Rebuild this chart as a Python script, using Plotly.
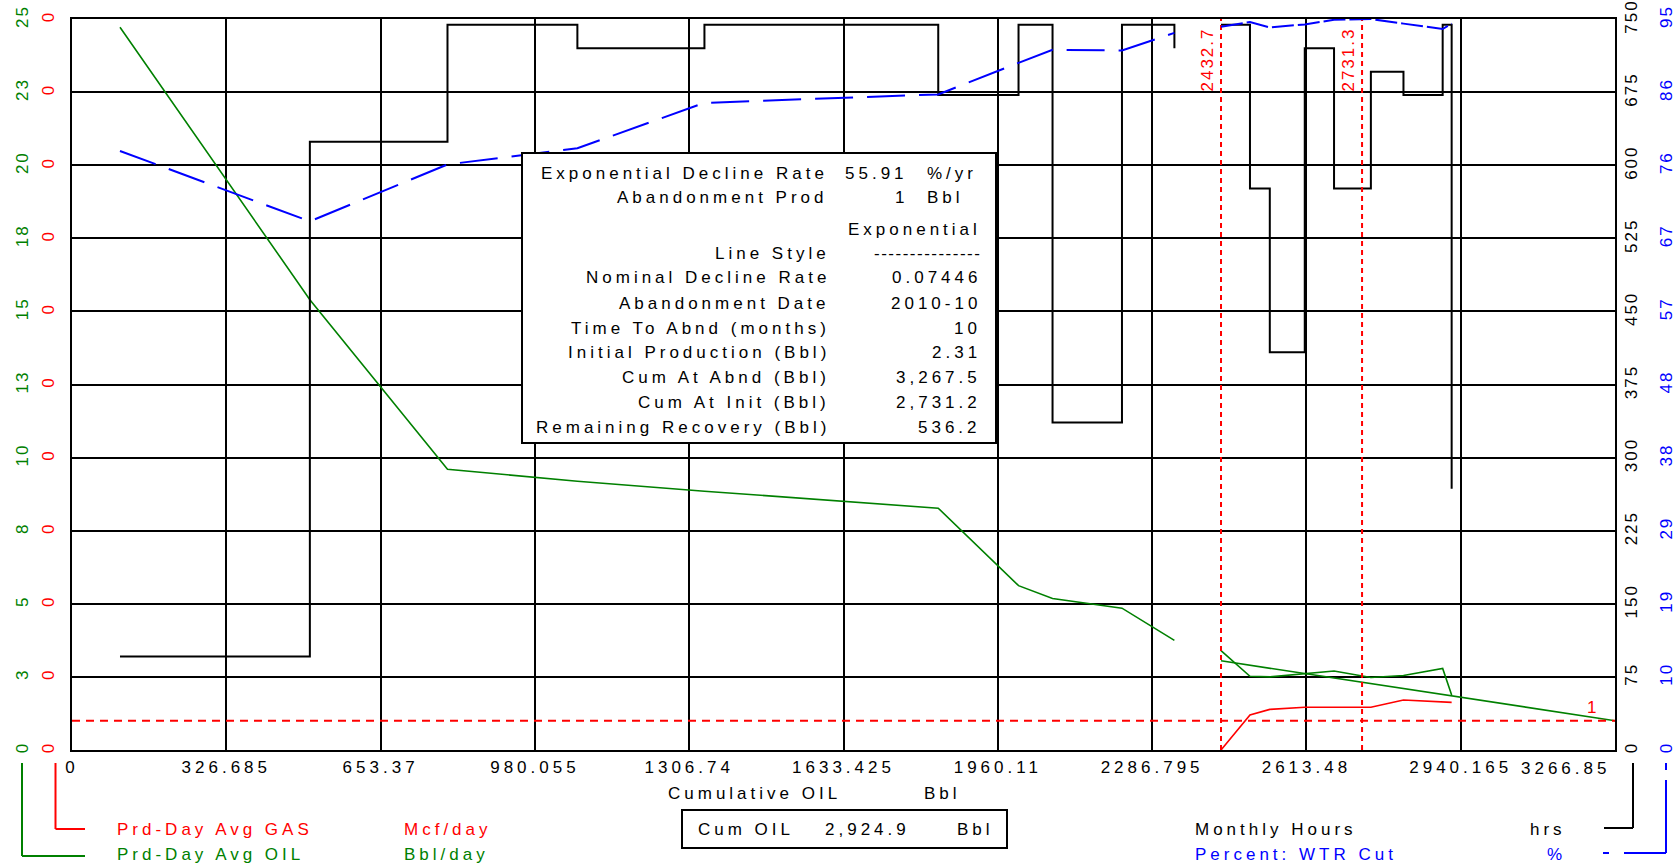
import plotly.graph_objects as go

# ---------------- data ----------------
x_ticks = [0, 326.685, 653.37, 980.055, 1306.74, 1633.425, 1960.11, 2286.795, 2613.48, 2940.165, 3266.85]
x_tick_labels = ["0", "326.685", "653.37", "980.055", "1306.74", "1633.425", "1960.11",
                 "2286.795", "2613.48", "2940.165", "3266.85"]

oil_ticks = [0, 2.5, 5, 7.5, 10, 12.5, 15, 17.5, 20, 22.5, 25]
oil_tick_labels = ["0", "3", "5", "8", "10", "13", "15", "18", "20", "23", "25"]
gas_ticks = [0, 0.025, 0.05, 0.075, 0.1, 0.125, 0.15, 0.175, 0.2, 0.225, 0.25]
gas_tick_labels = ["0", "0", "0", "0", "0", "0", "0", "0", "0", "0", "0"]
hrs_ticks = [0, 75, 150, 225, 300, 375, 450, 525, 600, 675, 750]
hrs_tick_labels = ["0", "75", "150", "225", "300", "375", "450", "525", "600", "675", "750"]
wtr_ticks = [0, 9.5, 19, 28.5, 38, 47.5, 57, 66.5, 76, 85.5, 95]
wtr_tick_labels = ["0", "10", "19", "29", "38", "48", "57", "67", "76", "86", "95"]

# production history, first block
cum_oil_1 = [101.6, 503.6, 795, 1070, 1339, 1834, 2004, 2076, 2223, 2334]
oil_rate_1 = [24.72, 15.4, 9.6, 9.19, 8.85, 8.27, 5.62, 5.18, 4.85, 3.75]
hours_1 = [96, 624, 744, 720, 744, 672, 744, 336, 744, 720]
wtr_cut_1 = [77.85, 68.7, 76.1, 78.2, 84.1, 85.2, 89.3, 91.0, 90.9, 93.2]

# production history, second block
cum_oil_2 = [2432.7, 2494, 2536, 2610, 2672, 2750, 2819, 2902, 2921]
oil_rate_2 = [3.40, 2.52, 2.50, 2.60, 2.70, 2.48, 2.55, 2.79, 1.88]
gas_rate_2 = [0.0, 0.0120, 0.0139, 0.0146, 0.0146, 0.0146, 0.0171, 0.0166, 0.0163]
hours_2 = [744, 576, 408, 720, 576, 696, 672, 744, 268]
wtr_cut_2 = [94.0, 94.6, 93.9, 94.3, 94.9, 95.0, 94.4, 93.7, 94.4]

# exponential forecast
forecast_cum = [2432.7, 2731.2, 3267.5]
forecast_rate = [3.05, 2.31, 1.0]
abandon_rate = 1
marker_cums = [2432.7, 2731.3]

box_labels = ["Exponential Decline Rate", "Abandonment Prod", "", "Line Style",
              "Nominal Decline Rate", "Abandonment Date", "Time To Abnd (months)",
              "Initial Production (Bbl)", "Cum At Abnd (Bbl)", "Cum At Init (Bbl)",
              "Remaining Recovery (Bbl)"]
box_values = ["55.91", "1", "Exponential", "---------------", "0.07446", "2010-10", "10",
              "2.31", "3,267.5", "2,731.2", "536.2"]
box_units = ["%/yr", "Bbl"]
cum_oil_total = "2,924.9"

# ---------------- styling helpers ----------------
W, H = 1680, 866
L, R, T, B = 72, 1615, 19, 750
FONT = "Liberation Sans, Arial, sans-serif"
GREEN, RED, BLUE, BLACK = "#008000", "#ff0000", "#0000ff", "#000000"


def sp(t, ls=4):
    return f'<span style="letter-spacing:{ls}px">{t}</span>'


def px(x):
    return x / W


def py(y):
    return 1 - y / H


fig = go.Figure()

# Monthly hours (step)
fig.add_trace(go.Scatter(x=cum_oil_1 + [None] + cum_oil_2, y=hours_1 + [None] + hours_2,
                         mode="lines", line=dict(color=BLACK, width=2, shape="hv"),
                         yaxis="y3", connectgaps=False, showlegend=False))
# Water cut
fig.add_trace(go.Scatter(x=cum_oil_1, y=wtr_cut_1, mode="lines",
                         line=dict(color=BLUE, width=2, dash="38px,14px"),
                         yaxis="y4", showlegend=False))
fig.add_trace(go.Scatter(x=cum_oil_2, y=wtr_cut_2, mode="lines",
                         line=dict(color=BLUE, width=2, dash="22px,4px"),
                         yaxis="y4", showlegend=False))
# Oil
fig.add_trace(go.Scatter(x=cum_oil_1 + [None] + cum_oil_2, y=oil_rate_1 + [None] + oil_rate_2,
                         mode="lines", line=dict(color=GREEN, width=1.6),
                         connectgaps=False, showlegend=False))
fig.add_trace(go.Scatter(x=forecast_cum, y=forecast_rate, mode="lines",
                         line=dict(color=GREEN, width=1.6), showlegend=False))
# Gas
fig.add_trace(go.Scatter(x=cum_oil_2, y=gas_rate_2, mode="lines",
                         line=dict(color=RED, width=1.6), yaxis="y2", showlegend=False))
# Abandonment rate
fig.add_trace(go.Scatter(x=[x_ticks[0], x_ticks[-1]], y=[abandon_rate, abandon_rate], mode="lines",
                         line=dict(color=RED, width=2, dash="8px,6px"), showlegend=False))
# Marker verticals
for m in marker_cums:
    fig.add_trace(go.Scatter(x=[m, m], y=[hrs_ticks[0], hrs_ticks[-1]], mode="lines",
                             line=dict(color=RED, width=2, dash="5px,4px"),
                             yaxis="y3", showlegend=False))

ann = []
for m in marker_cums:
    ann.append(dict(x=m, xref="x", y=py(60), yref="paper", text=sp(f"{m:.1f}", 2),
                    textangle=-90, showarrow=False, xanchor="right", yanchor="middle",
                    xshift=-3, font=dict(family=FONT, size=17, color=RED)))
ann.append(dict(x=3218, xref="x", y=1.45, yref="y", text="1", showarrow=False,
                font=dict(family=FONT, size=17, color=RED)))

# last x tick label, right-aligned at the frame
ann.append(dict(x=px(1612), xref="paper", y=py(768), yref="paper", text=sp(x_tick_labels[-1]),
                showarrow=False, xanchor="right", yanchor="middle",
                font=dict(family=FONT, size=17, color=BLACK)))

# info box
shapes = []
shapes.append(dict(type="rect", xref="paper", yref="paper", x0=px(522), x1=px(996),
                   y0=py(153), y1=py(443), fillcolor="white", line=dict(color=BLACK, width=2),
                   layer="above"))
row_y = [173, 197, 229, 253, 277, 303, 328, 352, 377, 402, 427]
for i, (lab, val) in enumerate(zip(box_labels, box_values)):
    yy = py(row_y[i])
    if lab:
        ann.append(dict(x=px(832 if i > 1 else 830), y=yy, xref="paper", yref="paper",
                        text=sp(lab), showarrow=False, xanchor="right", yanchor="middle",
                        font=dict(family=FONT, size=17, color=BLACK)))
    if i < 2:
        ann.append(dict(x=px(910), y=yy, xref="paper", yref="paper", text=sp(val),
                        showarrow=False, xanchor="right", yanchor="middle",
                        font=dict(family=FONT, size=17, color=BLACK)))
        ann.append(dict(x=px(925), y=yy, xref="paper", yref="paper", text=sp(box_units[i]),
                        showarrow=False, xanchor="left", yanchor="middle",
                        font=dict(family=FONT, size=17, color=BLACK)))
    else:
        ann.append(dict(x=px(983), y=yy, xref="paper", yref="paper",
                        text=sp(val, 1.5 if val.startswith("-") else 4),
                        showarrow=False, xanchor="right", yanchor="middle",
                        font=dict(family=FONT, size=17, color=BLACK)))

# bottom texts
def txt(x, y, t, color=BLACK, anchor="left"):
    ann.append(dict(x=px(x), y=py(y), xref="paper", yref="paper", text=sp(t), showarrow=False,
                    xanchor=anchor, yanchor="middle", font=dict(family=FONT, size=17, color=color)))

txt(666, 793, "Cumulative OIL")
txt(922, 793, "Bbl")
shapes.append(dict(type="rect", xref="paper", yref="paper", x0=px(682), x1=px(1007),
                   y0=py(810), y1=py(848), line=dict(color=BLACK, width=2), fillcolor="white"))
txt(696, 829, "Cum OIL")
txt(823, 829, cum_oil_total)
txt(955, 829, "Bbl")
txt(115, 829, "Prd-Day Avg GAS", RED)
txt(402, 829, "Mcf/day", RED)
txt(115, 854, "Prd-Day Avg OIL", GREEN)
txt(402, 854, "Bbl/day", GREEN)
txt(1193, 829, "Monthly Hours")
txt(1568, 829, "hrs", BLACK, "right")
txt(1193, 854, "Percent: WTR Cut", BLUE)
txt(1568, 854, "%", BLUE, "right")

def seg(x0, y0, x1, y1, color, dash="solid"):
    shapes.append(dict(type="line", xref="paper", yref="paper", x0=px(x0), y0=py(y0),
                       x1=px(x1), y1=py(y1), line=dict(color=color, width=2, dash=dash)))

seg(22, 763, 22, 856, GREEN)
seg(22, 856, 85, 856, GREEN)
seg(55.5, 763, 55.5, 829, RED)
seg(55.5, 829, 85, 829, RED)
seg(1633, 763, 1633, 828, BLACK)
seg(1604, 828, 1633, 828, BLACK)
seg(1666, 763, 1666, 770, BLUE)
seg(1666, 780, 1666, 853, BLUE)
seg(1624, 853, 1666, 853, BLUE)
seg(1603, 853, 1609, 853, BLUE)

tf = dict(family=FONT, size=17)
YLS = 2
fig.update_layout(
    width=W, height=H, margin=dict(l=0, r=0, t=0, b=0, autoexpand=False),
    paper_bgcolor="white", plot_bgcolor="white", showlegend=False, hovermode=False,
    xaxis=dict(domain=[px(L), px(R)], range=[x_ticks[0], x_ticks[-1]], tickmode="array",
               tickvals=x_ticks, ticktext=[sp(t) for t in x_tick_labels[:-1]] + [""],
               showgrid=True, gridcolor=BLACK, gridwidth=2, zeroline=False, automargin=False,
               showline=True, linecolor=BLACK, linewidth=2, mirror=True, ticks="",
               tickfont=dict(tf, color=BLACK), ticklabelstandoff=1),
    yaxis=dict(domain=[1 - B / H, 1 - T / H], range=[oil_ticks[0], oil_ticks[-1]],
               tickmode="array", tickvals=oil_ticks, ticktext=[sp(t, YLS) for t in oil_tick_labels],
               tickangle=-90, tickfont=dict(tf, color=GREEN), showgrid=True, gridcolor=BLACK,
               gridwidth=2, zeroline=False, showline=True, linecolor=BLACK, linewidth=2,
               mirror=True, ticks="", ticklabelstandoff=35, automargin=False,
               ticklabeloverflow="allow"),
    yaxis2=dict(overlaying="y", anchor="free", position=px(L), side="left",
                range=[gas_ticks[0], gas_ticks[-1]], tickmode="array", tickvals=gas_ticks,
                ticktext=[sp(t, YLS) for t in gas_tick_labels], tickangle=-90, automargin=False,
                tickfont=dict(tf, color=RED), showgrid=False, zeroline=False, showline=False,
                ticks="", ticklabelstandoff=15, ticklabeloverflow="allow"),
    yaxis3=dict(overlaying="y", anchor="free", position=px(R), side="right",
                range=[hrs_ticks[0], hrs_ticks[-1]], tickmode="array", tickvals=hrs_ticks,
                ticktext=[sp(t, YLS) for t in hrs_tick_labels], tickangle=-90, automargin=False,
                tickfont=dict(tf, color=BLACK), showgrid=False, zeroline=False, showline=False,
                ticks="", ticklabelstandoff=4, ticklabeloverflow="allow"),
    yaxis4=dict(overlaying="y", anchor="free", position=px(R), side="right",
                range=[wtr_ticks[0], wtr_ticks[-1]], tickmode="array", tickvals=wtr_ticks,
                ticktext=[sp(t, YLS) for t in wtr_tick_labels], tickangle=-90, automargin=False,
                tickfont=dict(tf, color=BLUE), showgrid=False, zeroline=False, showline=False,
                ticks="", ticklabelstandoff=39, ticklabeloverflow="allow"),
    annotations=ann, shapes=shapes,
)

fig.write_html("out.html", config={"displayModeBar": False},
               post_script="document.body.style.margin='0px';document.body.style.overflow='hidden';")
